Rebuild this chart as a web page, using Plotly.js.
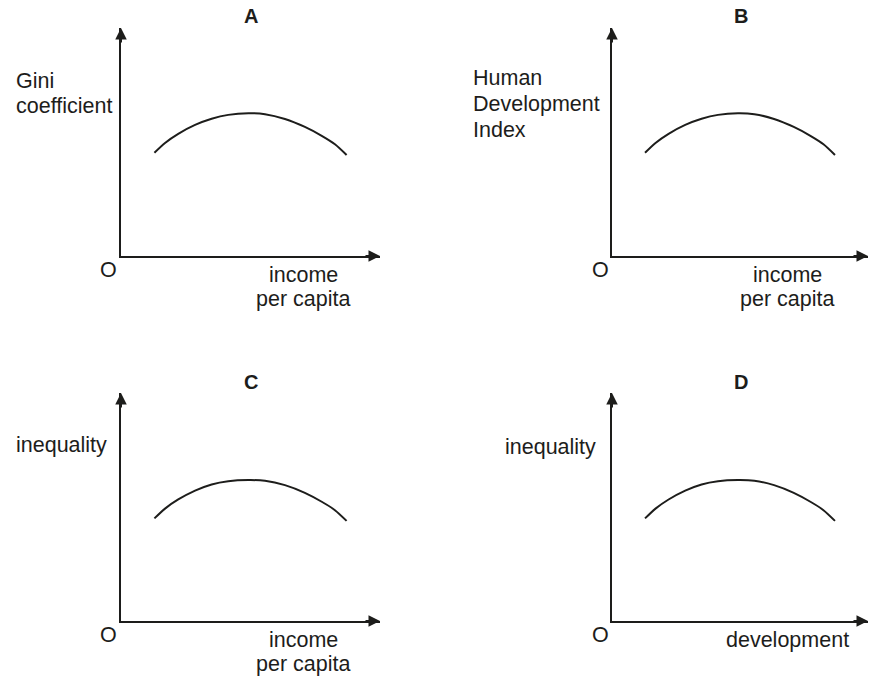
<!DOCTYPE html>
<html>
<head>
<meta charset="utf-8">
<script src="https://cdn.plot.ly/plotly-3.0.1.min.js"></script>
<style>html,body{margin:0;padding:0;background:#fff;}#chart{width:870px;height:683px;}</style>
</head>
<body>
<div id="chart"></div>
<script>
// ---- data (axis units 0..10) ----
const panelLetters = ["A", "B", "C", "D"];
const yLabels = [["Gini", "coefficient"], ["Human", "Development", "Index"], ["inequality"], ["inequality"]];
const xLabels = [["income", "per capita"], ["income", "per capita"], ["income", "per capita"], ["development"]];
const originLabel = "O";

const curveX = [1.29, 1.70, 2.21, 2.86, 3.50, 4.14, 4.92, 5.56, 6.33, 7.10, 7.75, 8.26, 8.71];
const giniY = [4.53, 4.96, 5.36, 5.75, 6.02, 6.19, 6.26, 6.22, 6.01, 5.66, 5.27, 4.90, 4.43];
const hdiY = [4.53, 4.96, 5.36, 5.75, 6.02, 6.19, 6.26, 6.22, 6.01, 5.66, 5.27, 4.90, 4.43];
const inequalityIncomeY = [4.50, 4.93, 5.33, 5.72, 5.99, 6.13, 6.18, 6.15, 5.96, 5.62, 5.23, 4.86, 4.39];
const inequalityDevY = [4.50, 4.93, 5.33, 5.72, 5.99, 6.13, 6.18, 6.15, 5.96, 5.62, 5.23, 4.86, 4.39];
const seriesY = [giniY, hdiY, inequalityIncomeY, inequalityDevY];

// ---- layout / style ----
const W = 870, H = 683;
const INK = "#1d1d1b";
const FONT = "Liberation Sans, Arial, sans-serif";
const px = v => v / W;
const py = v => 1 - v / H;

// panel boxes in pixels: [left, right, top, bottom]
const boxes = [[121, 380, 28, 256], [612, 868, 28, 256], [121, 380, 393, 621], [612, 868, 393, 621]];

// text placements (pixel centres)
const titlePos = [[251, 16], [741, 16], [251, 381.5], [741, 381.5]];
const yLabelPos = [
  {x: 14, anchor: "left", ys: [81, 106]},
  {x: 471, anchor: "left", ys: [78, 103.5, 129.5]},
  {x: 14, anchor: "left", ys: [444.5]},
  {x: 598, anchor: "right", ys: [447]}
];
const xLabelPos = [
  {x: 303, ys: [275, 299]},
  {x: 787, ys: [275, 299]},
  {x: 303, ys: [640, 664]},
  {x: 787.5, ys: [640]}
];
const originPos = [[109, 270], [600, 270], [109, 634.5], [600, 634.5]];

const traces = [];
const layout = {
  width: W, height: H,
  margin: {l: 0, r: 0, t: 0, b: 0},
  paper_bgcolor: "#ffffff",
  plot_bgcolor: "#ffffff",
  showlegend: false,
  font: {family: FONT, color: INK, size: 21.5},
  annotations: []
};

boxes.forEach((b, i) => {
  const n = i + 1;
  const xa = n === 1 ? "x" : "x" + n;
  const ya = n === 1 ? "y" : "y" + n;
  const xkey = n === 1 ? "xaxis" : "xaxis" + n;
  const ykey = n === 1 ? "yaxis" : "yaxis" + n;
  const axBase = {
    range: [0, 10], showgrid: false, zeroline: false, showticklabels: false,
    ticks: "", showline: true, linewidth: 2, linecolor: INK, fixedrange: true
  };
  layout[xkey] = Object.assign({}, axBase, {domain: [px(b[0]), px(b[1])], anchor: ya});
  layout[ykey] = Object.assign({}, axBase, {domain: [py(b[3]), py(b[2])], anchor: xa});

  traces.push({
    type: "scatter", mode: "lines", x: curveX, y: seriesY[i],
    xaxis: xa, yaxis: ya, hoverinfo: "skip",
    line: {color: INK, width: 2, shape: "spline", smoothing: 0.8}
  });

  // arrowheads at axis tips
  layout.annotations.push({
    xref: xa, yref: ya, x: 10, y: 0, ax: -16, ay: 0, text: "",
    showarrow: true, arrowhead: 2, arrowsize: 1.15, arrowwidth: 2, arrowcolor: INK, standoff: 0
  });
  layout.annotations.push({
    xref: xa, yref: ya, x: 0, y: 10, ax: 0, ay: 16, text: "",
    showarrow: true, arrowhead: 2, arrowsize: 1.15, arrowwidth: 2, arrowcolor: INK, standoff: 0
  });

  // panel letter
  layout.annotations.push({
    xref: "paper", yref: "paper", x: px(titlePos[i][0]), y: py(titlePos[i][1]),
    xanchor: "center", yanchor: "middle", showarrow: false,
    text: "<b>" + panelLetters[i] + "</b>", font: {size: 20, family: FONT, color: INK}
  });

  // y labels
  yLabels[i].forEach((t, k) => {
    layout.annotations.push({
      xref: "paper", yref: "paper", x: px(yLabelPos[i].x), y: py(yLabelPos[i].ys[k]),
      xanchor: yLabelPos[i].anchor, yanchor: "middle", showarrow: false, text: t
    });
  });
  // x labels
  xLabels[i].forEach((t, k) => {
    layout.annotations.push({
      xref: "paper", yref: "paper", x: px(xLabelPos[i].x), y: py(xLabelPos[i].ys[k]),
      xanchor: "center", yanchor: "middle", showarrow: false, text: t
    });
  });
  // origin
  layout.annotations.push({
    xref: "paper", yref: "paper", x: px(originPos[i][0]), y: py(originPos[i][1]),
    xanchor: "center", yanchor: "middle", showarrow: false, text: originLabel
  });
});

Plotly.newPlot("chart", traces, layout, {staticPlot: true, displayModeBar: false});
</script>
</body>
</html>
